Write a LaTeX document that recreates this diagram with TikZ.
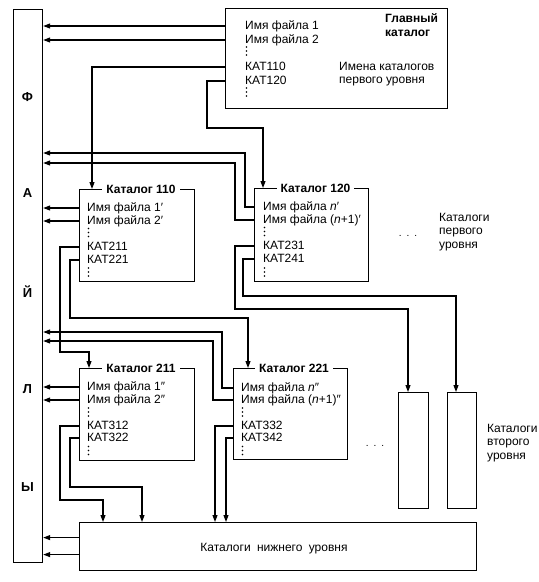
\documentclass[tikz,border=0pt]{standalone}
\usepackage{fontspec}
\setmainfont{Liberation Sans}
\usetikzlibrary{arrows.meta,calc}
\begin{document}
\begin{tikzpicture}[x=1pt,y=-1pt,
  box/.style={draw,line width=1.2pt,anchor=north west,inner sep=0pt},
  txt/.style={anchor=west,inner sep=0pt,font=\fontsize{12}{13.5}\selectfont,text height=8.5pt,text depth=2pt},
  lbl/.style={anchor=west,inner sep=0pt,align=left,font=\fontsize{12}{13.5}\selectfont},
  ttl/.style={fill=white,inner xsep=4pt,inner ysep=1pt,font=\bfseries\fontsize{12}{13.5}\selectfont},
  arr/.style={line width=1.1pt,-{Triangle[length=7pt,width=5pt]}},
  big/.style={font=\bfseries\fontsize{13}{15}\selectfont},
  vdts/.pic={\fill (0,-4) circle (0.85) (0,0) circle (0.85) (0,4) circle (0.85);}
]
\useasboundingbox (0,0) rectangle (539,582);

% ---- left tall box
\node[box,minimum width=29,minimum height=553] (files) at (13,9) {};
\node[big] (lF) at (27.5,97) {Ф};
\node[big] (lA) at (27.5,193) {А};
\node[big] (lJ) at (27.5,292) {Й};
\node[big] (lL) at (27.5,389) {Л};
\node[big] (lY) at (27.5,487) {Ы};

% ---- main catalog
\node[box,minimum width=222,minimum height=100] (main) at (225,8) {};
\node[txt] (mf1) at (245,26) {Имя файла 1};
\node[txt] (mf2) at (245,40) {Имя файла 2};
\pic at (246.5,51) {vdts};
\node[txt] (mk1) at (245,67) {КАТ110};
\node[txt] (mk2) at (245,81) {КАТ120};
\pic at (246.5,92) {vdts};
\node[lbl,font=\bfseries\fontsize{12}{13.5}\selectfont] (mainT) at (385,25) {Главный\\каталог};
\node[lbl] (names1) at (339,74) {Имена каталогов\\первого уровня};

% ---- catalog 110
\node[box,minimum width=115,minimum height=92] (c110) at (79,189) {};
\node[ttl] (t110) at (141,189) {Каталог 110};
\node[txt] (a1) at (87,208) {Имя файла 1′};
\node[txt] (a2) at (87,221) {Имя файла 2′};
\pic at (88.5,232.5) {vdts};
\node[txt] (a3) at (87,247) {КАТ211};
\node[txt] (a4) at (87,260) {КАТ221};
\pic at (88.5,272) {vdts};

% ---- catalog 120
\node[box,minimum width=114,minimum height=93] (c120) at (254,188) {};
\node[ttl] (t120) at (315.5,188) {Каталог 120};
\node[txt] (b1) at (263,207) {Имя файла \textit{n}′};
\node[txt] (b2) at (263,220) {Имя файла (\textit{n}+1)′};
\pic at (264.5,231.5) {vdts};
\node[txt] (b3) at (263,246) {КАТ231};
\node[txt] (b4) at (263,259) {КАТ241};
\pic at (264.5,272) {vdts};

\node[inner sep=0pt] (dots1) at (408,236) {.\hspace{5pt}.\hspace{5pt}.};
\node[lbl] (lev1) at (439,232) {Каталоги\\первого\\уровня};

% ---- catalog 211
\node[box,minimum width=115,minimum height=92] (c211) at (79,368) {};
\node[ttl] (t211) at (141,368) {Каталог 211};
\node[txt] (e1) at (87,387) {Имя файла 1″};
\node[txt] (e2) at (87,400) {Имя файла 2″};
\pic at (88.5,412) {vdts};
\node[txt] (e3) at (87,426) {КАТ312};
\node[txt] (e4) at (87,438) {КАТ322};
\pic at (88.5,450.5) {vdts};

% ---- catalog 221
\node[box,minimum width=114,minimum height=91] (c221) at (233,368) {};
\node[ttl] (t221) at (294,368) {Каталог 221};
\node[txt] (d1) at (241,388) {Имя файла \textit{n}″};
\node[txt] (d2) at (241,400) {Имя файла (\textit{n}+1)″};
\pic at (242.5,412) {vdts};
\node[txt] (d3) at (241,426) {КАТ332};
\node[txt] (d4) at (241,438) {КАТ342};
\pic at (242.5,450.5) {vdts};

% ---- second level boxes
\node[box,minimum width=30,minimum height=116] (s1) at (398,392) {};
\node[box,minimum width=29,minimum height=116] (s2) at (447,392) {};
\node[inner sep=0pt] (dots2) at (375,446) {.\hspace{5pt}.\hspace{5pt}.};
\node[lbl] (lev2) at (487,443) {Каталоги\\второго\\уровня};

% ---- bottom box
\node[box,minimum width=397,minimum height=48] (bottom) at (79,522) {};
\node[inner sep=0pt,font=\fontsize{12}{13.5}\selectfont] (botT) at (274,549) {Каталоги\hspace{3pt} нижнего\hspace{3pt} уровня};

% ---- helper coordinates
\coordinate (c110in) at ([xshift=13pt]c110.north west);
\coordinate (c120in) at ([xshift=9pt]c120.north west);
\coordinate (c211in) at ([xshift=10pt]c211.north west);
\coordinate (c221in) at ([xshift=15pt]c221.north west);
\coordinate (s1in) at ([xshift=10pt]s1.north west);
\coordinate (s2in) at ([xshift=9pt]s2.north west);
\coordinate (bin1) at ([xshift=24pt]bottom.north west);
\coordinate (bin2) at ([xshift=63pt]bottom.north west);
\coordinate (bin3) at ([xshift=136pt]bottom.north west);
\coordinate (bin4) at ([xshift=147pt]bottom.north west);
\coordinate (k120) at (207,128);
\coordinate (kb1) at (245,153);
\coordinate (kb2) at (235,163);
\coordinate (kb3) at (235,309);
\coordinate (kb4) at (243,296);
\coordinate (ka3) at (60,352);
\coordinate (ka4) at (70,318);
\coordinate (kd1) at (222,332);
\coordinate (kd2) at (213,341);
\coordinate (ke3) at (60,500);
\coordinate (ke4) at (70,487);
\coordinate (bo1) at ([yshift=9pt]bottom.west);
\coordinate (bo2) at ([yshift=-8pt]bottom.west);

% ---- connectors: main catalog
\draw[arr] (mf1 -| main.west) -- (mf1 -| files.east);
\draw[arr] (mf2 -| main.west) -- (mf2 -| files.east);
\draw[arr] (mk1 -| main.west) -| (c110in);
\draw[arr] (mk2 -| main.west) -| (k120) -| (c120in);

% ---- catalog 110
\draw[arr] (a1 -| c110.west) -- (a1 -| files.east);
\draw[arr] (a2 -| c110.west) -- (a2 -| files.east);
\draw[arr] (a3 -| c110.west) -| (ka3) -| (c211in);
\draw[arr] (a4 -| c110.west) -| (ka4) -| (c221in);

% ---- catalog 120
\draw[arr] (b1 -| c120.west) -| (kb1) -- (kb1 -| files.east);
\draw[arr] (b2 -| c120.west) -| (kb2) -- (kb2 -| files.east);
\draw[arr] (b3 -| c120.west) -| (kb3) -| (s1in);
\draw[arr] (b4 -| c120.west) -| (kb4) -| (s2in);

% ---- catalog 211
\draw[arr] (e1 -| c211.west) -- (e1 -| files.east);
\draw[arr] (e2 -| c211.west) -- (e2 -| files.east);
\draw[arr] (e3 -| c211.west) -| (ke3) -| (bin1);
\draw[arr] (e4 -| c211.west) -| (ke4) -| (bin2);

% ---- catalog 221
\draw[arr] (d1 -| c221.west) -| (kd1) -- (kd1 -| files.east);
\draw[arr] (d2 -| c221.west) -| (kd2) -- (kd2 -| files.east);
\draw[arr] (d3 -| c221.west) -| (bin3);
\draw[arr] (d4 -| c221.west) -| (bin4);

% ---- bottom
\draw[arr] (bo1) -- (bo1 -| files.east);
\draw[arr] (bo2) -- (bo2 -| files.east);
\end{tikzpicture}
\end{document}
